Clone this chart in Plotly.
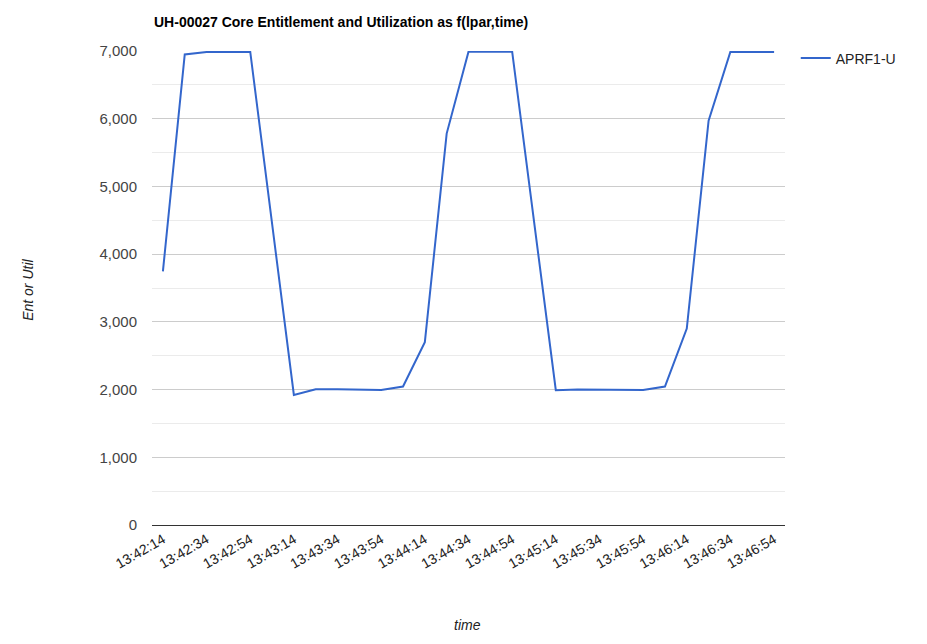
import plotly.graph_objects as go

times = ["13:42:14", "13:42:24", "13:42:34", "13:42:54", "13:43:14", "13:43:24",
         "13:43:34", "13:43:44", "13:43:54", "13:44:04", "13:44:14", "13:44:24",
         "13:44:34", "13:44:54", "13:45:14", "13:45:24", "13:45:34", "13:45:44",
         "13:45:54", "13:46:04", "13:46:14", "13:46:24", "13:46:34", "13:46:54"]
aprf1_u = [3745, 6950, 6985, 6990, 1920, 2005, 2005, 2005, 1995, 2045, 2700, 5780,
           6990, 6990, 1990, 2000, 2000, 2000, 1995, 2045, 2900, 5970, 6990, 6985]

tick_labels = ["13:42:14", "13:42:34", "13:42:54", "13:43:14", "13:43:34", "13:43:54",
               "13:44:14", "13:44:34", "13:44:54", "13:45:14", "13:45:34", "13:45:54",
               "13:46:14", "13:46:34", "13:46:54"]

day = "2024-01-01 "
x = [day + t for t in times]

fig = go.Figure()
fig.add_trace(go.Scatter(x=x, y=aprf1_u, mode="lines", name="APRF1-U",
                         line=dict(color="#3366cc", width=2)))

font = "Liberation Sans, Arial, sans-serif"
fig.update_layout(
    width=927, height=644,
    margin=dict(l=144, r=150, t=43, b=127),
    plot_bgcolor="white", paper_bgcolor="white",
    font=dict(family=font, size=13, color="#444"),
    showlegend=True,
    legend=dict(x=1.017, xanchor="left", y=1.018, yanchor="top",
                font=dict(size=14, color="#222"), bgcolor="rgba(0,0,0,0)"),
    xaxis=dict(
        type="date",
        range=[day + "13:42:09", day + "13:46:59"],
        tickmode="array",
        tickvals=[day + t for t in tick_labels],
        ticktext=tick_labels,
        tickangle=-30,
        showgrid=False,
        showline=True, linecolor="#333", linewidth=1,
        ticks="",
        tickfont=dict(size=14, color="#222"),
    ),
    yaxis=dict(
        range=[0, 7000],
        dtick=1000,
        tickformat=",d",
        gridcolor="#cccccc",
        zeroline=False,
        ticks="",
        ticklabelstandoff=14,
        tickfont=dict(size=15, color="#444"),
        minor=dict(dtick=500, showgrid=True, gridcolor="#ebebeb"),
    ),
    annotations=[
        dict(text="<b>UH-00027 Core Entitlement and Utilization as f(lpar,time)</b>",
             xref="paper", yref="paper", x=0, y=1.061, xanchor="left", yanchor="middle",
             showarrow=False, font=dict(size=14, color="#000")),
        dict(text="<i>Ent or Util</i>", xref="paper", yref="paper",
             x=-0.196, y=0.496, textangle=-90, showarrow=False,
             xanchor="center", yanchor="middle", font=dict(size=14, color="#222")),
        dict(text="<i>time</i>", xref="paper", yref="paper",
             x=0.499, y=-0.211, showarrow=False,
             xanchor="center", yanchor="middle", font=dict(size=14, color="#222")),
    ],
)

fig.write_html("out.html")
